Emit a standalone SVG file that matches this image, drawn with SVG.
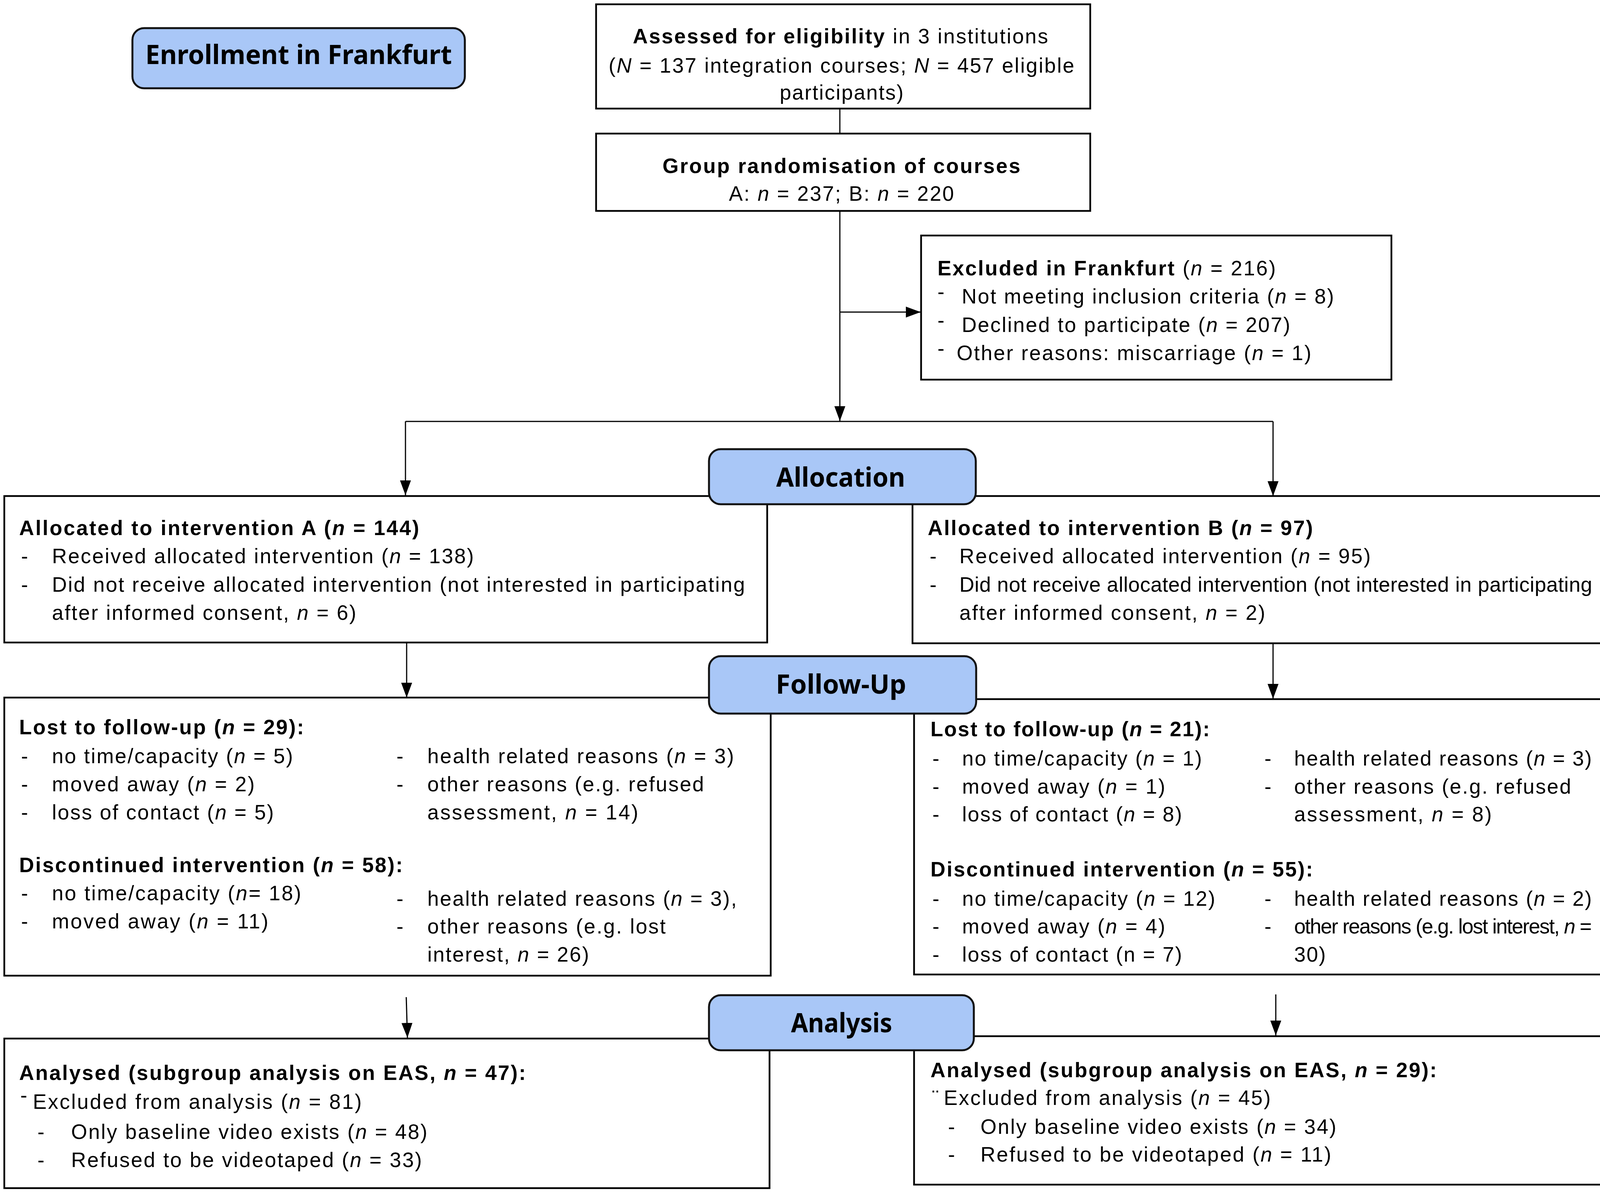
<svg xmlns="http://www.w3.org/2000/svg" width="4317" height="3057" viewBox="0 0 4317 3057">
<style>
.box{fill:#fff;stroke:#000;stroke-width:4.5}
.hdr{fill:#a9c7f7;stroke:#111;stroke-width:5}
.t{font-family:"Liberation Sans",Arial,sans-serif;font-size:53px;fill:#000}
.b{font-weight:bold}
.i{font-style:italic}
.h{font-family:"Noto Sans","Liberation Sans",sans-serif;font-weight:bold;font-size:68px;fill:#000}
.d{font-family:"Liberation Sans",Arial,sans-serif;font-size:53px;fill:#000}
.c{stroke:#000;stroke-width:3;fill:none}
</style>
<defs>
<marker id="ah" viewBox="0 0 38 28" refX="38" refY="14" markerWidth="38" markerHeight="28" markerUnits="userSpaceOnUse" orient="auto">
<path d="M0,0 L38,14 L0,28 z" fill="#000"/>
</marker>
</defs>
<rect width="4317" height="3057" fill="#fff"/>

<g id="connectors">
<line class="c" x1="2150" y1="278" x2="2150" y2="342"/>
<line class="c" x1="2150" y1="540" x2="2150" y2="1078" marker-end="url(#ah)"/>
<line class="c" x1="2150" y1="799" x2="2357" y2="799" marker-end="url(#ah)"/>
<line class="c" x1="1038" y1="1079" x2="3259" y2="1079"/>
<line class="c" x1="1038" y1="1079" x2="1038" y2="1268" marker-end="url(#ah)"/>
<line class="c" x1="3259" y1="1079" x2="3259" y2="1270" marker-end="url(#ah)"/>
<line class="c" x1="1041" y1="1645" x2="1041" y2="1786" marker-end="url(#ah)"/>
<line class="c" x1="3259" y1="1647" x2="3259" y2="1789" marker-end="url(#ah)"/>
<line class="c" x1="1040" y1="2553" x2="1043" y2="2657" marker-end="url(#ah)"/>
<line class="c" x1="3266" y1="2546" x2="3266" y2="2651" marker-end="url(#ah)"/>
</g>

<g id="assessed">
<rect class="box" x="1526" y="11" width="1265" height="267"/>
<text class="t" x="1620" y="111" textLength="1063" lengthAdjust="spacing"><tspan class="b">Assessed for eligibility</tspan> in 3 institutions</text>
<text class="t" x="1558" y="186" textLength="1192" lengthAdjust="spacing">(<tspan class="i">N</tspan> = 137 integration courses; <tspan class="i">N</tspan> = 457 eligible</text>
<text class="t" x="1996" y="255" textLength="317" lengthAdjust="spacing">participants)</text>
</g>

<g id="randomisation">
<rect class="box" x="1526" y="342" width="1265" height="198"/>
<text class="t b" x="1696" y="443" textLength="916" lengthAdjust="spacing">Group randomisation of courses</text>
<text class="t" x="1866" y="514" textLength="576" lengthAdjust="spacing">A: <tspan class="i">n</tspan> = 237; B: <tspan class="i">n</tspan> = 220</text>
</g>

<g id="excluded">
<rect class="box" x="2358" y="603" width="1204" height="369"/>
<text class="t" x="2400" y="705" textLength="866" lengthAdjust="spacing"><tspan class="b">Excluded in Frankfurt</tspan> (<tspan class="i">n</tspan> = 216)</text>
<text class="d" x="2400" y="765" font-size="40">-</text>
<text class="t" x="2462" y="777" textLength="953" lengthAdjust="spacing">Not meeting inclusion criteria (<tspan class="i">n</tspan> = 8)</text>
<text class="d" x="2400" y="838" font-size="40">-</text>
<text class="t" x="2462" y="850" textLength="841" lengthAdjust="spacing">Declined to participate (<tspan class="i">n</tspan> = 207)</text>
<text class="d" x="2400" y="910" font-size="40">-</text>
<text class="t" x="2449" y="922" textLength="908" lengthAdjust="spacing">Other reasons: miscarriage (<tspan class="i">n</tspan> = 1)</text>
</g>

<g id="allocA">
<rect class="box" x="11" y="1270" width="1953" height="375"/>
<text class="t b" x="49" y="1370" textLength="1024" lengthAdjust="spacing">Allocated to intervention A (<tspan class="i">n</tspan> = 144)</text>
<text class="d" x="54" y="1442">-</text>
<text class="t" x="133" y="1442" textLength="1080" lengthAdjust="spacing">Received allocated intervention (<tspan class="i">n</tspan> = 138)</text>
<text class="d" x="54" y="1515">-</text>
<text class="t" x="133" y="1515" textLength="1774" lengthAdjust="spacing">Did not receive allocated intervention (not interested in participating</text>
<text class="t" x="133" y="1587" textLength="779" lengthAdjust="spacing">after informed consent, <tspan class="i">n</tspan> = 6)</text>
</g>

<g id="allocB">
<rect class="box" x="2336" y="1270" width="1967" height="377"/>
<text class="t b" x="2375" y="1370" textLength="986" lengthAdjust="spacing">Allocated to intervention B (<tspan class="i">n</tspan> = 97)</text>
<text class="d" x="2380" y="1442">-</text>
<text class="t" x="2456" y="1442" textLength="1053" lengthAdjust="spacing">Received allocated intervention (<tspan class="i">n</tspan> = 95)</text>
<text class="d" x="2380" y="1515">-</text>
<text class="t" x="2456" y="1515" font-size="48" textLength="1620" lengthAdjust="spacing">Did not receive allocated intervention (not interested in participating</text>
<text class="t" x="2456" y="1587" textLength="783" lengthAdjust="spacing">after informed consent, <tspan class="i">n</tspan> = 2)</text>
</g>

<g id="followA">
<rect class="box" x="11" y="1786" width="1962" height="712"/>
<text class="t b" x="49" y="1880" textLength="729" lengthAdjust="spacing">Lost to follow-up (<tspan class="i">n</tspan> = 29):</text>
<text class="d" x="54" y="1954">-</text>
<text class="t" x="133" y="1954" textLength="617" lengthAdjust="spacing">no time/capacity (<tspan class="i">n</tspan> = 5)</text>
<text class="d" x="54" y="2026">-</text>
<text class="t" x="133" y="2026" textLength="519" lengthAdjust="spacing">moved away (<tspan class="i">n</tspan> = 2)</text>
<text class="d" x="54" y="2098">-</text>
<text class="t" x="133" y="2098" textLength="568" lengthAdjust="spacing">loss of contact (<tspan class="i">n</tspan> = 5)</text>
<text class="d" x="1015" y="1954">-</text>
<text class="t" x="1094" y="1954" textLength="785" lengthAdjust="spacing">health related reasons (<tspan class="i">n</tspan> = 3)</text>
<text class="d" x="1015" y="2026">-</text>
<text class="t" x="1094" y="2026" textLength="708" lengthAdjust="spacing">other reasons (e.g. refused</text>
<text class="t" x="1094" y="2098" textLength="540" lengthAdjust="spacing">assessment, <tspan class="i">n</tspan> = 14)</text>
<text class="t b" x="49" y="2233" textLength="982" lengthAdjust="spacing">Discontinued intervention (<tspan class="i">n</tspan> = 58):</text>
<text class="d" x="54" y="2305">-</text>
<text class="t" x="133" y="2305" textLength="638" lengthAdjust="spacing">no time/capacity (<tspan class="i">n</tspan>= 18)</text>
<text class="d" x="54" y="2377">-</text>
<text class="t" x="133" y="2377" textLength="554" lengthAdjust="spacing">moved away (<tspan class="i">n</tspan> = 11)</text>
<text class="d" x="1015" y="2319">-</text>
<text class="t" x="1094" y="2319" textLength="792" lengthAdjust="spacing">health related reasons (<tspan class="i">n</tspan> = 3),</text>
<text class="d" x="1015" y="2390">-</text>
<text class="t" x="1094" y="2390" textLength="610" lengthAdjust="spacing">other reasons (e.g. lost</text>
<text class="t" x="1094" y="2462" textLength="414" lengthAdjust="spacing">interest, <tspan class="i">n</tspan> = 26)</text>
</g>

<g id="followB">
<rect class="box" x="2340" y="1790" width="1963" height="705"/>
<text class="t b" x="2382" y="1885" textLength="715" lengthAdjust="spacing">Lost to follow-up (<tspan class="i">n</tspan> = 21):</text>
<text class="d" x="2387" y="1960">-</text>
<text class="t" x="2463" y="1960" textLength="614" lengthAdjust="spacing">no time/capacity (<tspan class="i">n</tspan> = 1)</text>
<text class="d" x="2387" y="2032">-</text>
<text class="t" x="2463" y="2032" textLength="520" lengthAdjust="spacing">moved away (<tspan class="i">n</tspan> = 1)</text>
<text class="d" x="2387" y="2103">-</text>
<text class="t" x="2463" y="2103" textLength="563" lengthAdjust="spacing">loss of contact (<tspan class="i">n</tspan> = 8)</text>
<text class="d" x="3237" y="1960">-</text>
<text class="t" x="3313" y="1960" textLength="762" lengthAdjust="spacing">health related reasons (<tspan class="i">n</tspan> = 3)</text>
<text class="d" x="3237" y="2032">-</text>
<text class="t" x="3313" y="2032" textLength="709" lengthAdjust="spacing">other reasons (e.g. refused</text>
<text class="t" x="3313" y="2103" textLength="506" lengthAdjust="spacing">assessment, <tspan class="i">n</tspan> = 8)</text>
<text class="t b" x="2382" y="2244" textLength="979" lengthAdjust="spacing">Discontinued intervention (<tspan class="i">n</tspan> = 55):</text>
<text class="d" x="2387" y="2319">-</text>
<text class="t" x="2463" y="2319" textLength="648" lengthAdjust="spacing">no time/capacity (<tspan class="i">n</tspan> = 12)</text>
<text class="d" x="2387" y="2390">-</text>
<text class="t" x="2463" y="2390" textLength="520" lengthAdjust="spacing">moved away (<tspan class="i">n</tspan> = 4)</text>
<text class="d" x="2387" y="2462">-</text>
<text class="t" x="2463" y="2462" textLength="563" lengthAdjust="spacing">loss of contact (n = 7)</text>
<text class="d" x="3237" y="2319">-</text>
<text class="t" x="3313" y="2319" textLength="762" lengthAdjust="spacing">health related reasons (<tspan class="i">n</tspan> = 2)</text>
<text class="d" x="3237" y="2390">-</text>
<text class="t" x="3313" y="2390" font-size="48" textLength="762" lengthAdjust="spacing">other reasons (e.g. lost interest, <tspan class="i">n</tspan> =</text>
<text class="t" x="3313" y="2462" textLength="81" lengthAdjust="spacing">30)</text>
</g>

<g id="analysedA">
<rect class="box" x="11" y="2659" width="1959" height="383"/>
<text class="t b" x="49" y="2765" textLength="1297" lengthAdjust="spacing">Analysed (subgroup analysis on EAS, <tspan class="i">n</tspan> = 47):</text>
<text class="d" x="52" y="2822" font-size="34">-</text>
<text class="t" x="84" y="2839" textLength="842" lengthAdjust="spacing">Excluded from analysis (<tspan class="i">n</tspan> = 81)</text>
<text class="d" x="96" y="2916">-</text>
<text class="t" x="182" y="2916" textLength="912" lengthAdjust="spacing">Only baseline video exists (<tspan class="i">n</tspan> = 48)</text>
<text class="d" x="96" y="2988">-</text>
<text class="t" x="182" y="2988" textLength="898" lengthAdjust="spacing">Refused to be videotaped (<tspan class="i">n</tspan> = 33)</text>
</g>

<g id="analysedB">
<rect class="box" x="2340" y="2653" width="1963" height="380"/>
<text class="t b" x="2382" y="2758" textLength="1296" lengthAdjust="spacing">Analysed (subgroup analysis on EAS, <tspan class="i">n</tspan> = 29):</text>
<text class="d" x="2386" y="2829" font-size="40">¨</text>
<text class="t" x="2416" y="2829" textLength="837" lengthAdjust="spacing">Excluded from analysis (<tspan class="i">n</tspan> = 45)</text>
<text class="d" x="2427" y="2903">-</text>
<text class="t" x="2510" y="2903" textLength="911" lengthAdjust="spacing">Only baseline video exists (<tspan class="i">n</tspan> = 34)</text>
<text class="d" x="2427" y="2974">-</text>
<text class="t" x="2510" y="2974" textLength="898" lengthAdjust="spacing">Refused to be videotaped (<tspan class="i">n</tspan> = 11)</text>
</g>

<g id="enrollment">
<rect class="hdr" x="339" y="72" width="851" height="154" rx="30"/>
<text class="h" x="372" y="164" font-size="66" textLength="785" lengthAdjust="spacingAndGlyphs">Enrollment in Frankfurt</text>
</g>

<g id="allocation">
<rect class="hdr" x="1815" y="1150" width="683" height="141" rx="30"/>
<text class="h" x="1987" y="1246" textLength="330" lengthAdjust="spacingAndGlyphs">Allocation</text>
</g>

<g id="followup">
<rect class="hdr" x="1815" y="1680" width="684" height="147" rx="30"/>
<text class="h" x="1986" y="1776" textLength="334" lengthAdjust="spacingAndGlyphs">Follow-Up</text>
</g>

<g id="analysis">
<rect class="hdr" x="1815" y="2548" width="678" height="141" rx="30"/>
<text class="h" x="2025" y="2643" textLength="259" lengthAdjust="spacingAndGlyphs">Analysis</text>
</g>
</svg>
